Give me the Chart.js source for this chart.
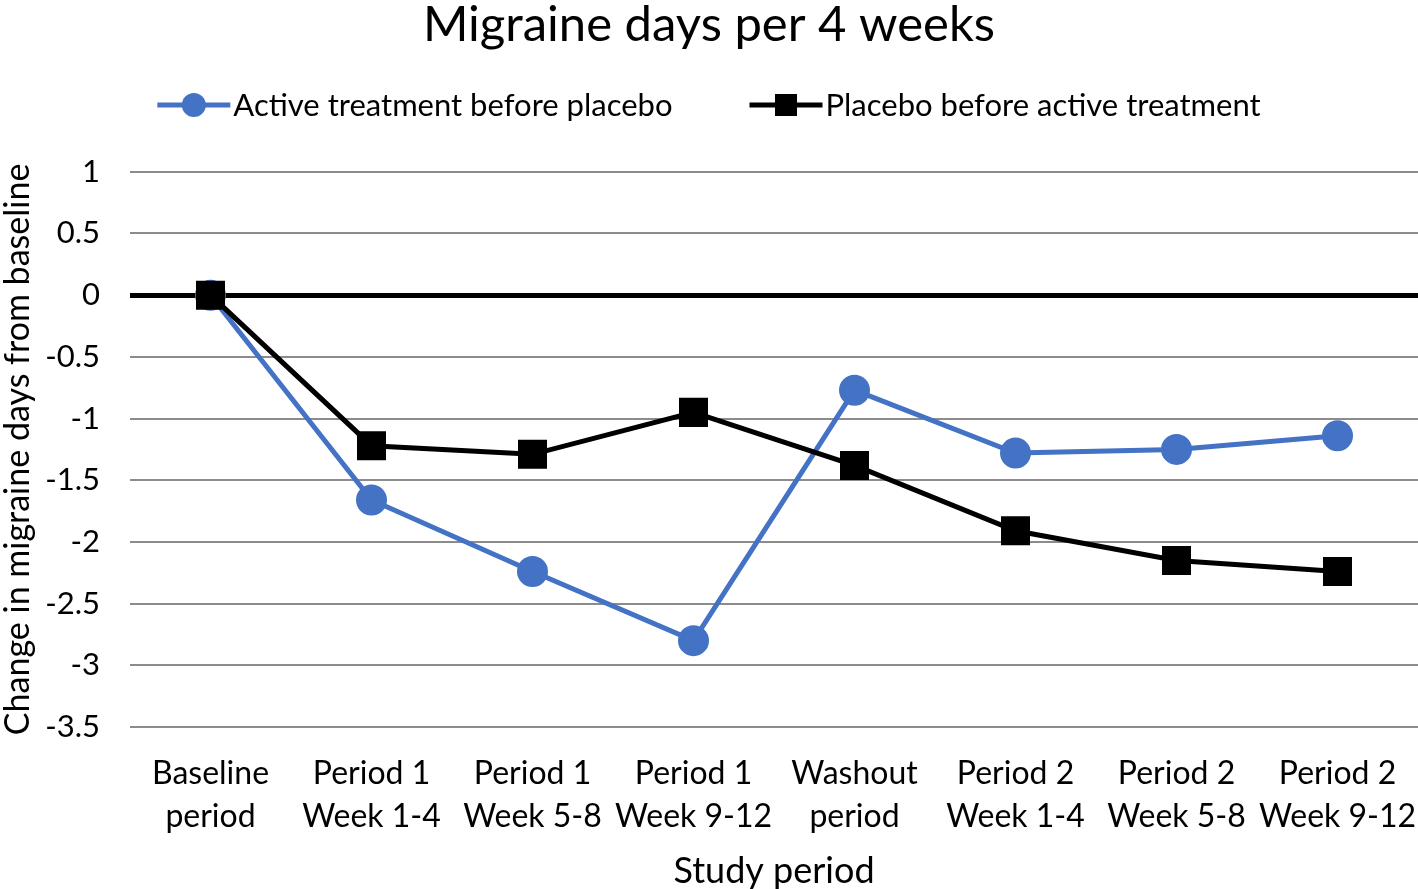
<!DOCTYPE html>
<html>
<head>
<meta charset="utf-8">
<script src="https://cdn.jsdelivr.net/npm/chart.js@4.4.1/dist/chart.umd.min.js"></script>
<style>
  html, body { margin: 0; padding: 0; background: #fff; }
  #wrap { width: 1418px; height: 889px; }
</style>
</head>
<body>
<div id="wrap"><canvas id="chart"></canvas></div>
<script>
const periods = [
  ['Baseline', 'period'],
  ['Period 1', 'Week 1-4'],
  ['Period 1', 'Week 5-8'],
  ['Period 1', 'Week 9-12'],
  ['Washout', 'period'],
  ['Period 2', 'Week 1-4'],
  ['Period 2', 'Week 5-8'],
  ['Period 2', 'Week 9-12']
];
const activeFirst = [0, -1.66, -2.24, -2.80, -0.77, -1.28, -1.25, -1.14];
const placeboFirst = [0, -1.22, -1.29, -0.95, -1.38, -1.91, -2.15, -2.24];

const FONT = 'Lato, "Open Sans", sans-serif';
const BLUE = '#4472C4';

// legend drawn like the Excel one: short line with the marker in the middle
const lineLegend = {
  id: 'lineLegend',
  afterDraw(chart) {
    const ctx = chart.ctx;
    const y = 105, sw = 73, gap = 3, between = 77;
    ctx.save();
    ctx.font = '31px ' + FONT;
    const items = chart.data.datasets.map(ds => ({ ds, w: ctx.measureText(ds.label).width }));
    const total = items.reduce((s, it) => s + sw + gap + it.w, 0) + between * (items.length - 1);
    let x = chart.width / 2 - total / 2;
    items.forEach(({ ds, w }) => {
      ctx.strokeStyle = ds.borderColor;
      ctx.lineWidth = 5;
      ctx.beginPath();
      ctx.moveTo(x, y);
      ctx.lineTo(x + sw, y);
      ctx.stroke();
      ctx.fillStyle = ds.pointBackgroundColor;
      const cx = x + sw / 2;
      if (ds.pointStyle === 'rect') {
        ctx.fillRect(cx - 11, y - 11, 22, 22);
      } else {
        ctx.beginPath();
        ctx.arc(cx, y, 12, 0, Math.PI * 2);
        ctx.fill();
      }
      ctx.fillStyle = '#000';
      ctx.textBaseline = 'middle';
      ctx.textAlign = 'left';
      ctx.fillText(ds.label, x + sw + gap, y + 1);
      x += sw + gap + w + between;
    });
    ctx.restore();
  }
};

new Chart(document.getElementById('chart'), {
  type: 'line',
  data: {
    labels: periods,
    datasets: [
      {
        label: 'Active treatment before placebo',
        data: activeFirst,
        borderColor: BLUE,
        backgroundColor: BLUE,
        pointBackgroundColor: BLUE,
        pointBorderColor: BLUE,
        pointStyle: 'circle',
        pointRadius: 13,
        borderWidth: 5,
        order: 2
      },
      {
        label: 'Placebo before active treatment',
        data: placeboFirst,
        borderColor: '#000',
        backgroundColor: '#000',
        pointBackgroundColor: '#000',
        pointBorderColor: '#000',
        pointStyle: 'rect',
        pointRadius: 17,
        borderWidth: 5,
        order: 1
      }
    ]
  },
  options: {
    responsive: true,
    maintainAspectRatio: false,
    animation: false,
    layout: { padding: 0, autoPadding: false },
    plugins: {
      legend: { display: false },
      tooltip: { enabled: false },
      title: {
        display: true,
        text: 'Migraine days per 4 weeks',
        color: '#000',
        font: { family: FONT, size: 49, weight: 'normal' },
        padding: { top: -4, bottom: 117 }
      }
    },
    scales: {
      x: {
        offset: true,
        grid: { display: false },
        border: { display: false },
        ticks: {
          color: '#000',
          font: { family: FONT, size: 32, lineHeight: 1.35 },
          padding: 17,
          maxRotation: 0,
          autoSkip: false
        },
        title: {
          display: true,
          text: 'Study period',
          color: '#000',
          font: { family: FONT, size: 36 },
          padding: { top: 0, bottom: -4 }
        },
        afterFit(scale) {
          scale.height = 162;
          scale.paddingLeft = 0;
          scale.paddingRight = 0;
        }
      },
      y: {
        min: -3.5,
        max: 1,
        border: { display: false },
        grid: {
          drawTicks: false,
          color: ctx => ctx.tick && ctx.tick.value === 0 ? '#000' : '#8c8c8c',
          lineWidth: ctx => ctx.tick && ctx.tick.value === 0 ? 5 : 2
        },
        ticks: {
          stepSize: 0.5,
          color: '#000',
          font: { family: FONT, size: 31 },
          padding: 30,
          callback: v => String(v)
        },
        title: {
          display: true,
          text: 'Change in migraine days from baseline',
          color: '#000',
          font: { family: FONT, size: 34 },
          padding: { top: -2, bottom: 0 }
        },
        afterFit(scale) { scale.width = 130; }
      }
    }
  },
  plugins: [lineLegend]
});
</script>
</body>
</html>
